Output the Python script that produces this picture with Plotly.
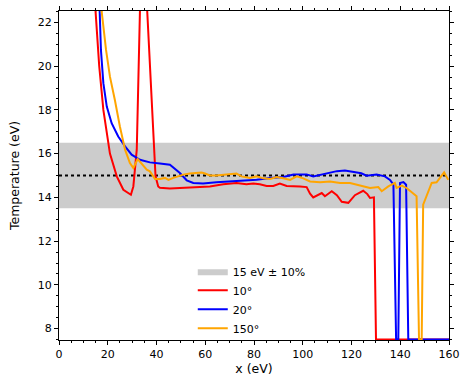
import plotly.graph_objects as go

# 10 deg
x_10 = [12.0, 15.0, 16.5, 18.2, 20.9, 23.7, 26.4, 29.5, 30.5, 31.9, 33.2, 34.7, 36.2, 37.6,
        38.6, 39.2, 39.6, 40.7, 41.4, 45.5, 51.0, 56.5, 61.9, 67.4, 72.8, 76.9, 79.7, 82.4, 85.2,
        87.9, 90.6, 93.4, 96.1, 98.9, 101.6, 103.0, 104.3, 106.0, 107.8, 109.1, 111.9, 114.0,
        116.0, 118.7, 121.4, 124.8, 126.5, 127.6, 129.2, 130.05, 160.0]
t_10 = [30.0, 22.5, 20.0, 18.0, 16.0, 14.96, 14.35, 14.12, 14.5, 16.18, 22.5, 30.0, 22.5, 19.5,
        16.9, 15.6, 14.96, 14.5, 14.44, 14.41, 14.45, 14.47, 14.5, 14.6, 14.66, 14.6, 14.63, 14.6, 14.52,
        14.52, 14.63, 14.52, 14.52, 14.5, 14.47, 14.17, 14.0, 14.1, 14.2, 14.05, 14.28, 14.1,
        13.8, 13.75, 14.1, 14.3, 14.15, 13.97, 14.0, 7.5, 7.5]

# 20 deg
x_20 = [14.5, 16.8, 17.2, 18.2, 19.6, 21.6, 24.3, 27.1, 29.8, 33.2, 37.3, 41.4, 45.5, 49.6,
        52.4, 55.1, 59.1, 64.6, 70.2, 75.6, 81.1, 86.6, 92.0, 96.2, 101.6, 104.3, 107.0, 111.2,
        114.0, 117.3, 120.0, 122.1, 124.0, 126.2, 128.0, 130.3, 133.7, 135.8, 137.2, 138.3,
        139.2, 139.9, 141.3, 142.4, 143.3, 160.0]
t_20 = [30.0, 22.5, 20.74, 19.22, 18.15, 17.39, 16.78, 16.33, 15.95, 15.72, 15.6, 15.55, 15.49, 15.11,
        14.78, 14.66, 14.63, 14.69, 14.73, 14.76, 14.81, 14.89, 14.93, 15.05, 15.05, 14.96, 15.02, 15.14,
        15.2, 15.23, 15.18, 15.11, 15.1, 14.99, 15.02, 15.04, 14.96, 14.8, 14.58, 7.5,
        7.5, 14.66, 14.7, 14.58, 7.5, 7.5]

# 150 deg
x_150 = [15.5, 17.5, 19.3, 20.9, 22.9, 24.98, 27.1, 29.1, 30.5, 32.3, 36.0, 37.3, 39.4, 41.4,
         43.5, 44.9, 46.9, 49.0, 51.0, 53.7, 56.5, 58.5, 59.9, 61.9, 64.6, 67.4, 70.8, 72.8,
         74.9, 78.3, 81.1, 83.8, 86.6, 89.3, 92.0, 94.8, 97.5, 100.2, 103.0, 107.1, 111.2,
         115.3, 119.4, 123.5, 127.6, 131.0, 132.4, 135.1, 137.8, 138.5, 140.6, 142.6, 145.3,
         146.7, 147.7, 148.8, 149.4, 152.9, 154.9, 156.3, 158.0, 159.7]
t_150 = [26.0, 22.5, 20.74, 19.52, 18.46, 17.24, 16.18, 15.57, 15.34, 15.75, 15.27, 15.19, 14.84, 14.84,
         14.89, 14.8, 14.89, 14.96, 15.04, 15.09, 15.11, 15.14, 15.09, 15.0, 15.0, 15.03, 15.04, 15.09,
         14.96, 14.89, 14.96, 14.87, 14.84, 14.93, 14.87, 14.8, 14.96, 14.87, 14.73, 14.69, 14.73,
         14.66, 14.66, 14.54, 14.43, 14.47, 14.28, 14.5, 14.66, 14.43, 14.54, 14.43, 14.2,
         14.05, 7.5, 7.5, 13.67, 14.66, 14.69, 14.89, 15.14, 14.8]

T_REF = 15.0
TOL = 0.10
X_SPAN = [0, 160]

fig = go.Figure()

lo, hi = T_REF * (1 - TOL), T_REF * (1 + TOL)
fig.add_trace(go.Scatter(
    x=[X_SPAN[0], X_SPAN[1], X_SPAN[1], X_SPAN[0], X_SPAN[0]],
    y=[lo, lo, hi, hi, lo],
    fill="toself", fillcolor="#cccccc", mode="lines",
    line=dict(width=0, color="#cccccc"),
    name="15 eV ± 10%", hoverinfo="skip",
))
fig.add_trace(go.Scatter(
    x=X_SPAN, y=[T_REF, T_REF], mode="lines",
    line=dict(color="black", width=2.2, dash="dot"),
    showlegend=False,
))

for xs, ts, col, name in [(x_10, t_10, "red", "10°"),
                          (x_20, t_20, "blue", "20°"),
                          (x_150, t_150, "orange", "150°")]:
    fig.add_trace(go.Scatter(x=xs, y=ts, mode="lines", name=name,
                             line=dict(color=col, width=2)))

axis_common = dict(
    showline=True, linecolor="black", linewidth=1, mirror="allticks",
    ticks="outside", ticklen=4, tickwidth=1, tickcolor="black",
    showgrid=False, zeroline=False, automargin=False,
    tickfont=dict(size=11, color="black"),
)

fig.update_xaxes(
    range=[0, 160], dtick=20, title=dict(text="x (eV)", font=dict(size=12.5), standoff=4),
    minor=dict(dtick=5, ticks="outside", ticklen=2, tickcolor="black", showgrid=False),
    **axis_common,
)
fig.update_yaxes(
    range=[7.48, 22.52], dtick=2, title=dict(text="Temperature (eV)", font=dict(size=12.5), standoff=15),
    minor=dict(dtick=0.5, ticks="outside", ticklen=2, tickcolor="black", showgrid=False),
    **axis_common,
)

fig.update_layout(
    width=468, height=385,
    margin=dict(l=59, r=19, t=11, b=45),
    paper_bgcolor="white", plot_bgcolor="white",
    font=dict(family="DejaVu Sans", color="black"),
    legend=dict(x=0.343, y=0.253, xanchor="left", yanchor="top",
                bgcolor="rgba(0,0,0,0)", font=dict(size=11),
                tracegroupgap=0, itemwidth=30),
)

fig.write_html("out.html", config={"displayModeBar": False},
               post_script="document.body.style.margin='0';")
